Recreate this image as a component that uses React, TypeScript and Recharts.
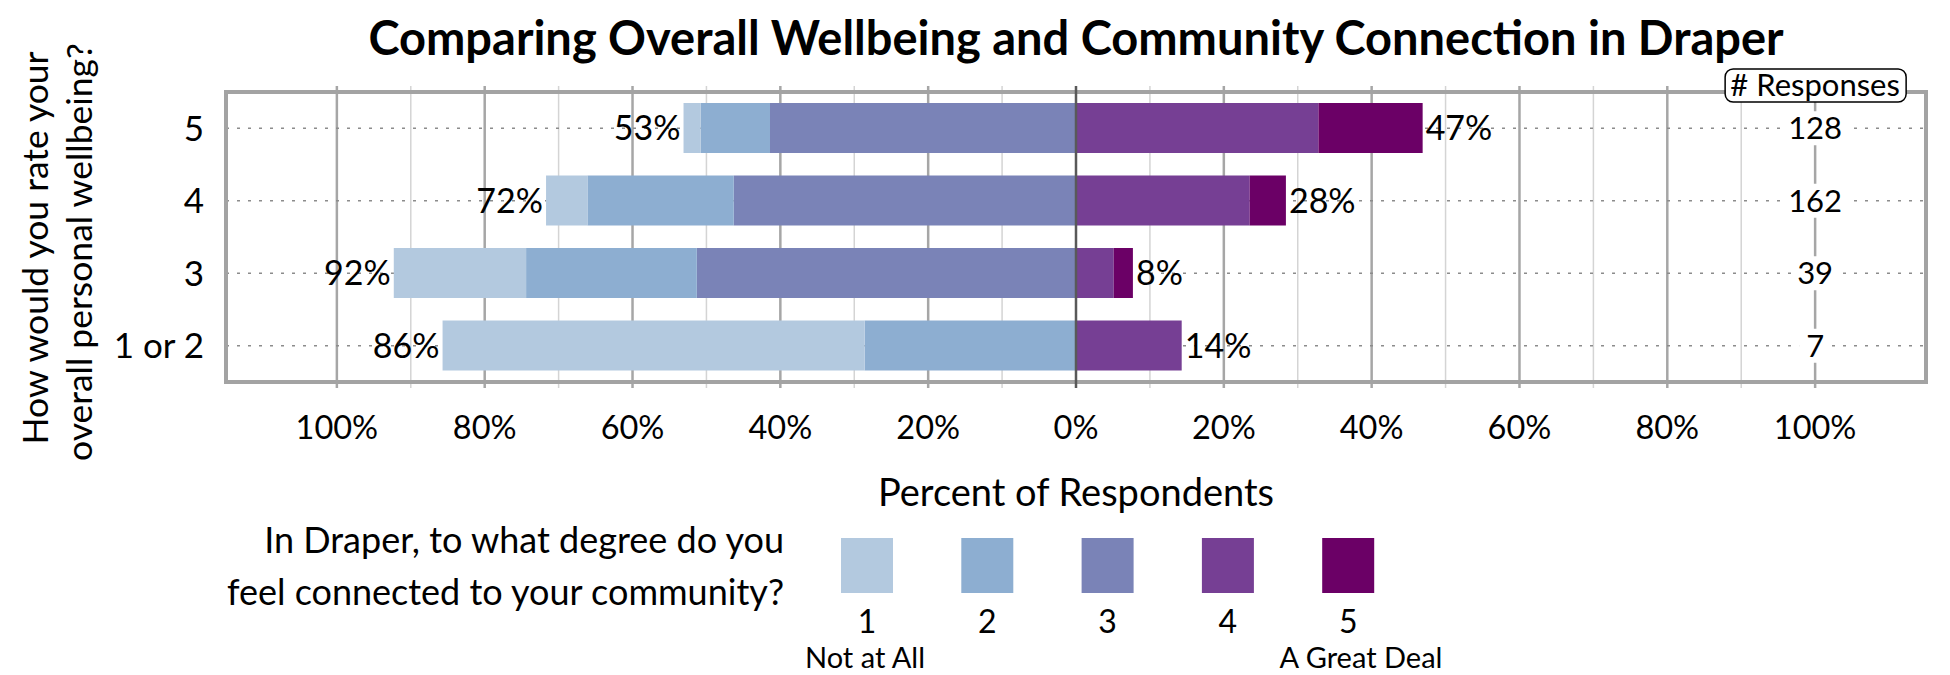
import React from 'react';
import {
  BarChart,
  Bar,
  XAxis,
  YAxis,
  CartesianGrid,
  ReferenceLine,
  ReferenceDot,
  ReferenceArea,
  LabelList,
} from 'recharts';

const FONT = 'Lato, "Open Sans", sans-serif';

// rows of the chart, top to bottom
const ratings = ['5', '4', '3', '1 or 2'];

// percent of respondents per connection level (1 = Not at All ... 5 = A Great Deal)
const level1 = [2.3, 5.6, 17.9, 57.1];
const level2 = [9.4, 19.8, 23.1, 28.6];
const level3 = [41.4, 46.3, 51.3, 0];
const level4 = [32.8, 23.5, 5.1, 14.3];
const level5 = [14.1, 4.9, 2.6, 0];

const leftTotals = ['53%', '72%', '92%', '86%'];
const rightTotals = ['47%', '28%', '8%', '14%'];
const responses = [128, 162, 39, 7];

const percentTicks = [-100, -80, -60, -40, -20, 0, 20, 40, 60, 80, 100];
const majorGrid = [-100, -80, -60, -40, -20, 20, 40, 60, 80, 100];
const minorGrid = [-90, -70, -50, -30, -10, 10, 30, 50, 70, 90];

const legendLevels = ['1', '2', '3', '4', '5'];
const colors = ['#B3C9DF', '#8DAED1', '#7A83B7', '#763F94', '#6B0066'];

const rows = ratings.map((rating, i) => ({
  rating,
  c1: -level1[i],
  c2: -level2[i],
  c3: -level3[i],
  c4: level4[i],
  c5: level5[i],
  left: leftTotals[i],
  // the right total sits at the end of the outermost non-empty segment
  right4: level5[i] > 0 ? '' : rightTotals[i],
  right5: level5[i] > 0 ? rightTotals[i] : '',
}));

const LeftLabel = (props: any) => {
  const vb = props.viewBox ?? props;
  if (!props.value) return null;
  const left = Math.min(vb.x, vb.x + vb.width);
  return (
    <text x={left - 3} y={vb.y + vb.height / 2 + 12} textAnchor="end" fontSize={34} fontFamily={FONT} fill="#000">
      {props.value}
    </text>
  );
};

const RightLabel = (props: any) => {
  const vb = props.viewBox ?? props;
  if (!props.value) return null;
  const right = Math.max(vb.x, vb.x + vb.width);
  return (
    <text x={right + 3} y={vb.y + vb.height / 2 + 12} textAnchor="start" fontSize={34} fontFamily={FONT} fill="#000">
      {props.value}
    </text>
  );
};

const countLabel = (value: number) => (props: any) => {
  const vb = props.viewBox;
  const cx = vb.x + vb.width / 2;
  const cy = vb.y + vb.height / 2;
  const w = String(value).length * 16 + 16;
  return (
    <g>
      <rect x={cx - w / 2} y={cy - 17} width={w} height={34} fill="#fff" />
      <text x={cx} y={cy + 11} textAnchor="middle" fontSize={31} fontFamily={FONT} fill="#000">
        {value}
      </text>
    </g>
  );
};

const ResponsesHeader = (props: any) => {
  const vb = props.viewBox;
  return (
    <g>
      <rect x={vb.x - 90} y={vb.y - 17} width={181} height={33} rx={8} fill="#fff" stroke="#000" strokeWidth={1.5} />
      <text x={vb.x} y={vb.y + 10} textAnchor="middle" fontSize={31} fontFamily={FONT} fill="#000">
        # Responses
      </text>
    </g>
  );
};

export default function App() {
  return (
    <div style={{ position: 'absolute', left: 0, top: 0, width: 1950, height: 675, background: '#fff', fontFamily: FONT }}>
      <BarChart
        width={1950}
        height={675}
        data={rows}
        layout="vertical"
        stackOffset="sign"
        barSize={50}
        margin={{ top: 86, right: 24, bottom: 247, left: 0 }}
      >
        <CartesianGrid horizontal={false} verticalValues={minorGrid} syncWithTicks stroke="#d4d4d4" strokeWidth={1.5} />
        <CartesianGrid horizontal={false} verticalValues={majorGrid} syncWithTicks stroke="#a6a6a6" strokeWidth={2.5} />
        <CartesianGrid vertical={false} syncWithTicks stroke="#8c8c8c" strokeDasharray="3 8" strokeWidth={1.5} />
        <XAxis
          type="number"
          domain={[-115, 115]}
          allowDataOverflow
          ticks={percentTicks}
          interval={0}
          tickFormatter={(v: number) => `${Math.abs(v)}%`}
          axisLine={false}
          tickLine={false}
          tickSize={0}
          tickMargin={28}
          height={40}
          tick={{ fontSize: 32.5, fill: '#000', fontFamily: FONT }}
        />
        <YAxis
          type="category"
          dataKey="rating"
          width={226}
          axisLine={false}
          tickLine={false}
          tickSize={0}
          tickMargin={22}
          padding={{ top: 6, bottom: 6 }}
          tick={{ fontSize: 35, fill: '#000', fontFamily: FONT }}
        />
        <Bar dataKey="c3" stackId="a" fill={colors[2]} isAnimationActive={false} />
        <Bar dataKey="c2" stackId="a" fill={colors[1]} isAnimationActive={false} />
        <Bar dataKey="c1" stackId="a" fill={colors[0]} isAnimationActive={false}>
          <LabelList dataKey="left" content={LeftLabel} />
        </Bar>
        <Bar dataKey="c4" stackId="a" fill={colors[3]} isAnimationActive={false}>
          <LabelList dataKey="right4" content={RightLabel} />
        </Bar>
        <Bar dataKey="c5" stackId="a" fill={colors[4]} isAnimationActive={false}>
          <LabelList dataKey="right5" content={RightLabel} />
        </Bar>
        <ReferenceLine x={0} stroke="#595959" strokeWidth={2.5} />
        <ReferenceArea x1={-115} x2={115} fill="none" stroke="#a3a3a3" strokeWidth={4} />
        <ReferenceLine x={100} stroke="none" label={<ResponsesHeader />} />
        {ratings.map((r, i) => (
          <ReferenceDot key={r} x={100} y={r} r={0} fill="none" stroke="none" label={countLabel(responses[i])} />
        ))}
      </BarChart>

      <svg width={1950} height={675} style={{ position: 'absolute', left: 0, top: 0, pointerEvents: 'none' }}>
        <text x={1076} y={55} textAnchor="middle" fontSize={47} fontWeight={700} fontFamily={FONT} fill="#000">
          Comparing Overall Wellbeing and Community Connection in Draper
        </text>
        <g fontSize={35.5} fontFamily={FONT} fill="#000" textAnchor="middle">
          <text transform="translate(48, 248) rotate(-90)">How would you rate your</text>
          <text transform="translate(92, 252) rotate(-90)">overall personal wellbeing?</text>
        </g>
        <text x={1076} y={506} textAnchor="middle" fontSize={38} fontFamily={FONT} fill="#000">
          Percent of Respondents
        </text>
        <g fontSize={36} fontFamily={FONT} fill="#000" textAnchor="end">
          <text x={784} y={553}>In Draper, to what degree do you</text>
          <text x={784} y={605}>feel connected to your community?</text>
        </g>
        {legendLevels.map((lvl, i) => (
          <g key={lvl}>
            <rect x={841 + i * 120.3} y={538} width={52} height={55} fill={colors[i]} />
            <text x={867 + i * 120.3} y={633} textAnchor="middle" fontSize={32} fontFamily={FONT} fill="#000">
              {lvl}
            </text>
          </g>
        ))}
        <g fontSize={29} fontFamily={FONT} fill="#000" textAnchor="middle">
          <text x={865} y={668}>Not at All</text>
          <text x={1361} y={668}>A Great Deal</text>
        </g>
      </svg>
    </div>
  );
}
